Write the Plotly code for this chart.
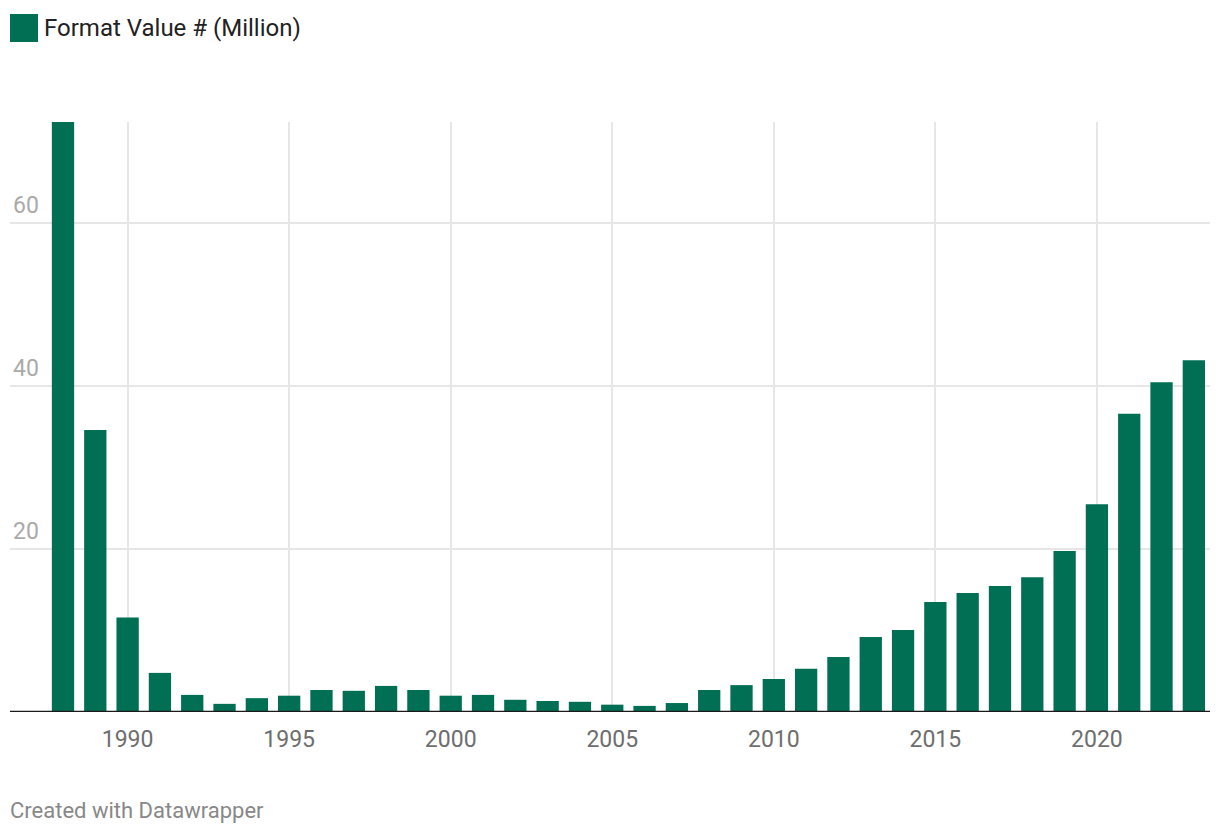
import plotly.graph_objects as go

years = list(range(1988, 2024))
values = [72.4, 34.6, 11.6, 4.8, 2.1, 1.0, 1.7, 2.0, 2.7, 2.6, 3.2, 2.7,
          2.0, 2.1, 1.5, 1.35, 1.25, 0.9, 0.75, 1.1, 2.7, 3.3, 4.05, 5.3,
          6.75, 9.2, 10.05, 13.5, 14.6, 15.45, 16.55, 19.75, 25.5, 36.6, 40.45, 43.15]
series_name = "Format Value # (Million)"
x_ticks = [1990, 1995, 2000, 2005, 2010, 2015, 2020]
y_ticks = [20, 40, 60]

BAR = "#006f54"
FONT = "Roboto, Lato, sans-serif"

# page body has an 8px margin, so figure is 1212x828 and offsets are shifted by 8
W, H = 1212, 828
L, R, T, B = 2, 10, 114, 124
PW, PH = W - L - R, H - T - B

fig = go.Figure()
fig.add_trace(go.Bar(x=years, y=values, marker_color=BAR, marker_line_width=0,
                     name=series_name, showlegend=False))

fig.update_layout(
    width=W, height=H,
    margin=dict(l=L, r=R, t=T, b=B, pad=0),
    paper_bgcolor="white", plot_bgcolor="white",
    bargap=0.31,
    font=dict(family=FONT),
    xaxis=dict(range=[1986.36, 2023.5], tickvals=x_ticks, ticktext=[str(v) for v in x_ticks],
               showgrid=True, gridcolor="#e6e6e6", gridwidth=2,
               showline=False, zeroline=False, ticks="", ticklabelstandoff=11,
               tickfont=dict(size=23, color="#6e6e6e", family=FONT)),
    yaxis=dict(range=[0, 72.4], tickvals=y_ticks, ticktext=[str(v) for v in y_ticks],
               showgrid=True, gridcolor="#e6e6e6", gridwidth=2,
               zeroline=False, showline=False, ticks="",
               ticklabelposition="inside", ticklabelshift=-18,
               tickfont=dict(size=23, color="#aaaaaa", family=FONT)),
)

# baseline
fig.add_shape(type="line", xref="paper", yref="y", x0=0, x1=1, y0=0, y1=0,
              line=dict(color="#1a1a1a", width=2.5))

# legend (custom, Datawrapper-style): square at page px x 10-38, y 14-42
fig.add_shape(type="rect", xref="paper", yref="paper",
              x0=0, x1=28 / PW, y0=1 + (T - 34) / PH, y1=1 + (T - 6) / PH,
              fillcolor=BAR, line_width=0)
fig.add_annotation(xref="paper", yref="paper", x=32 / PW, y=1 + (T - 20) / PH,
                   xanchor="left", yanchor="middle", showarrow=False,
                   text=series_name, font=dict(size=24, color="#222222", family=FONT))

# footer
fig.add_annotation(xref="paper", yref="paper", x=-2 / PW, y=-(802 - 704) / PH,
                   xanchor="left", yanchor="middle", showarrow=False,
                   text="Created with Datawrapper", font=dict(size=22, color="#888888", family=FONT))

fig.write_html("out.html")
